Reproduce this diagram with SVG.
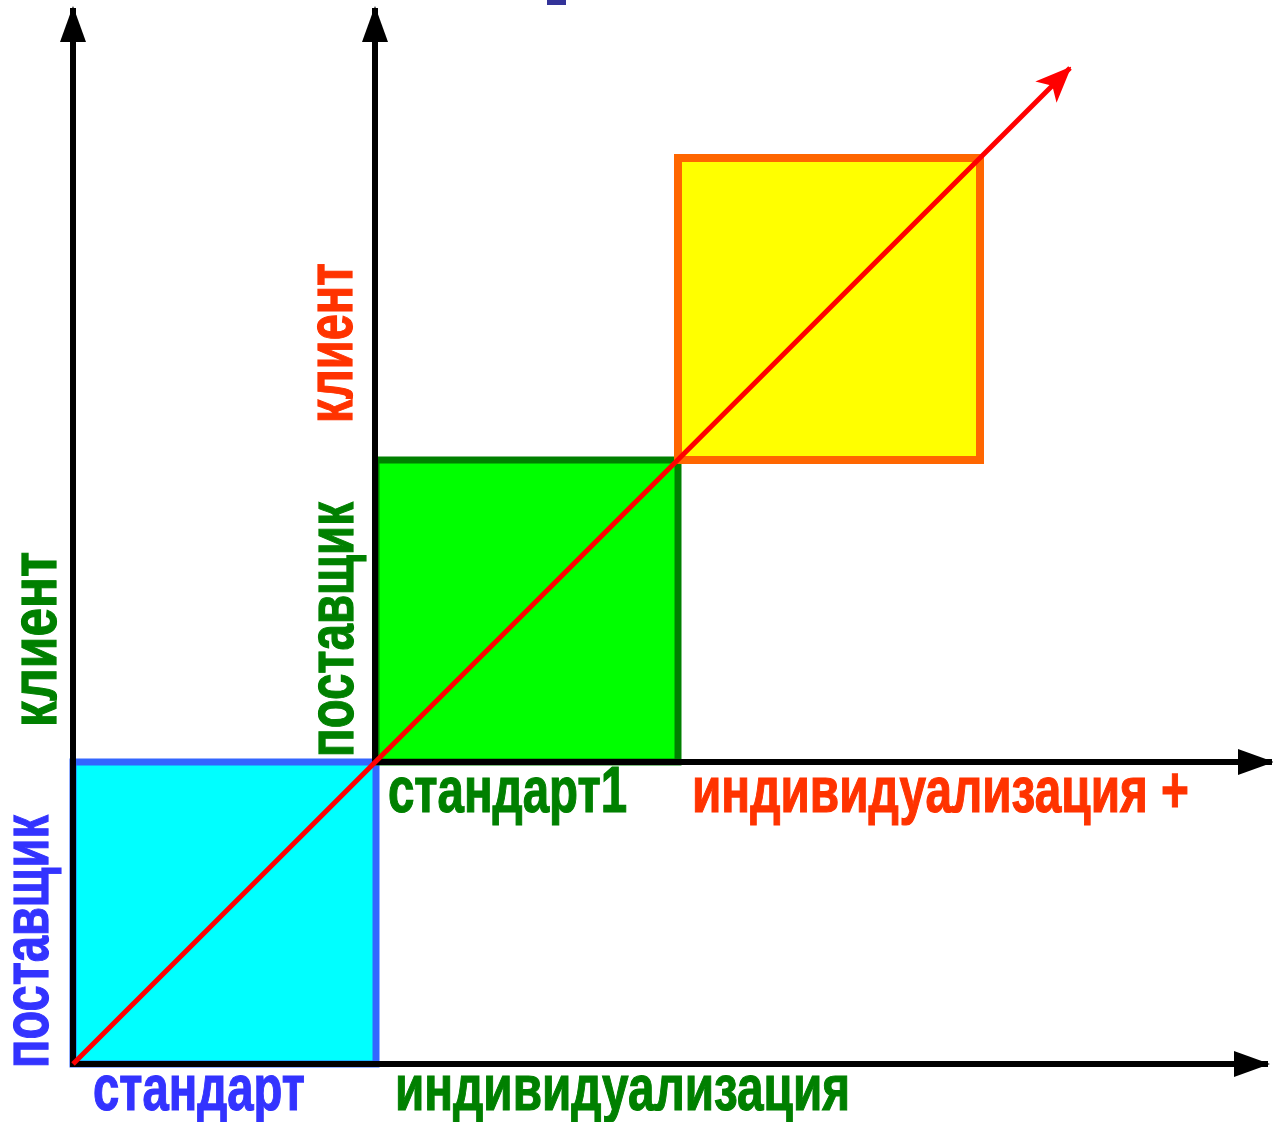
<svg xmlns="http://www.w3.org/2000/svg" width="1273" height="1122" viewBox="0 0 1273 1122">
<style>
text{font-family:"Liberation Sans",Arial,sans-serif;font-weight:bold;font-size:64px;stroke-width:1.2}
.axis{stroke:#000;stroke-width:6;fill:none}
.blue{fill:#3333ff;stroke:#3333ff}.green{fill:#008000;stroke:#008000}.orange{fill:#ff3300;stroke:#ff3300}
</style>
<defs>
<marker id="ah" markerUnits="userSpaceOnUse" markerWidth="36" markerHeight="26" refX="34" refY="13" orient="auto" viewBox="0 0 36 26">
<path d="M0,0 L36,13 L0,26 Z" fill="#000"/>
</marker>
<marker id="rh" markerUnits="userSpaceOnUse" markerWidth="36" markerHeight="30" refX="34" refY="15" orient="auto" viewBox="0 0 36 30">
<path d="M0,0 L36,15 L0,30 L9,15 Z" fill="#ff0000"/>
</marker>
</defs>
<rect x="547" y="0" width="19" height="5" fill="#333399"/>
<g id="box-standard"><rect x="73" y="762" width="303" height="302" fill="#00ffff" stroke="#3366ff" stroke-width="7"/></g>
<g id="box-standard1"><rect x="376" y="460" width="302" height="302" fill="#00ff00" stroke="#008000" stroke-width="7"/></g>
<g id="box-individual"><rect x="678" y="158" width="302" height="302" fill="#ffff00" stroke="#ff6600" stroke-width="8"/></g>
<g id="connectors">
<line class="axis" x1="73" y1="1064" x2="73" y2="8" marker-end="url(#ah)"/>
<line class="axis" x1="375" y1="762" x2="375" y2="8" marker-end="url(#ah)"/>
<line class="axis" x1="70" y1="1064" x2="1268" y2="1064" marker-end="url(#ah)"/>
<line class="axis" x1="375" y1="762" x2="1272" y2="762" marker-end="url(#ah)"/>
<line x1="73" y1="1064" x2="1070" y2="68" stroke="#ff0000" stroke-width="5" marker-end="url(#rh)"/>
</g>
<g id="labels">
<text class="blue" transform="translate(48,1068) rotate(-90)" textLength="253" lengthAdjust="spacingAndGlyphs">поставщик</text>
<text class="green" transform="translate(56,727) rotate(-90)" textLength="175" lengthAdjust="spacingAndGlyphs">клиент</text>
<text class="green" transform="translate(353,757) rotate(-90)" textLength="255" lengthAdjust="spacingAndGlyphs">поставщик</text>
<text class="orange" transform="translate(352,423) rotate(-90)" textLength="160" lengthAdjust="spacingAndGlyphs">клиент</text>
<text class="blue" x="93" y="1110" textLength="212" lengthAdjust="spacingAndGlyphs">стандарт</text>
<text class="green" x="395" y="1110" textLength="455" lengthAdjust="spacingAndGlyphs">индивидуализация</text>
<text class="green" x="388" y="812" textLength="239" lengthAdjust="spacingAndGlyphs">стандарт1</text>
<text class="orange" x="692" y="812" textLength="497" lengthAdjust="spacingAndGlyphs">индивидуализация +</text>
</g>
</svg>
